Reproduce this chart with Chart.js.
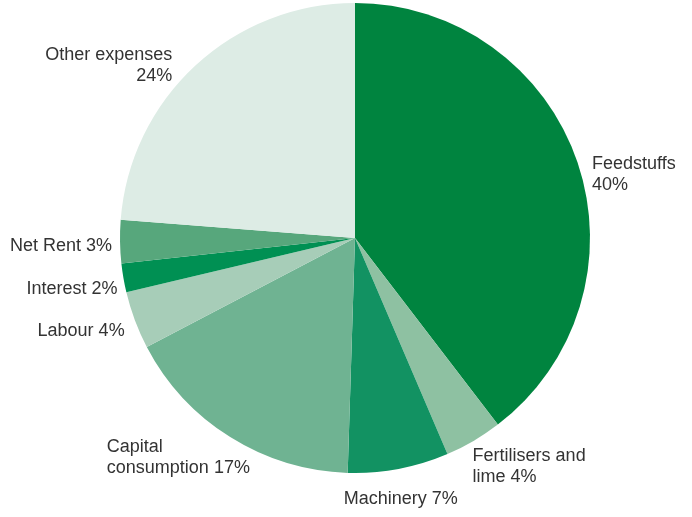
<!DOCTYPE html>
<html>
<head>
<meta charset="utf-8">
<script src="https://cdn.jsdelivr.net/npm/chart.js@4.4.1/dist/chart.umd.min.js"></script>
<style>
  html, body { margin: 0; padding: 0; background: #fff; }
  #wrap { width: 692px; height: 517px; }
</style>
</head>
<body>
<div id="wrap"><canvas id="pie-chart" width="692" height="517"></canvas></div>
<script>
// Cost shares, clockwise from 12 o'clock
var categories = ['Feedstuffs', 'Fertilisers and lime', 'Machinery', 'Capital consumption',
                  'Labour', 'Interest', 'Net Rent', 'Other expenses'];
var shares = [40, 4, 7, 17, 4, 2, 3, 24];

// How each label is broken over lines (value is appended to the last line)
var labelLines = [
  ['Feedstuffs', ''],
  ['Fertilisers and', 'lime'],
  ['Machinery'],
  ['Capital', 'consumption'],
  ['Labour'],
  ['Interest'],
  ['Net Rent'],
  ['Other expenses', '']
];

var sliceColors = ['#00843f', '#8ec1a2', '#129262', '#6fb392',
                   '#a7cdb8', '#009053', '#57a77c', '#ddece5'];

// label placement: text alignment and a nudge from the slice's mid-angle point
var labelAlign = ['left', 'left', 'center', 'left', 'right', 'right', 'right', 'right'];
var labelNudge = [[3, 10], [-7, 10], [0, 23], [-117, 5], [1, 12], [6, 14], [4, 9], [-15, 3]];

var outsideLabels = {
  id: 'outsideLabels',
  afterDatasetsDraw: function (chart) {
    var ctx = chart.ctx;
    var meta = chart.getDatasetMeta(0);
    ctx.save();
    ctx.font = '18px "Liberation Sans", Arial, sans-serif';
    ctx.fillStyle = '#333333';
    ctx.textBaseline = 'alphabetic';
    meta.data.forEach(function (arc, i) {
      var mid = (arc.startAngle + arc.endAngle) / 2;
      var r = arc.outerRadius + 12;
      var x = arc.x + Math.cos(mid) * r + labelNudge[i][0];
      var y = arc.y + Math.sin(mid) * r + labelNudge[i][1];
      var lines = labelLines[i].slice();
      var last = lines.length - 1;
      lines[last] = (lines[last] ? lines[last] + ' ' : '') + shares[i] + '%';
      ctx.textAlign = labelAlign[i];
      lines.forEach(function (line, j) {
        ctx.fillText(line, x, y + j * 21);
      });
    });
    ctx.restore();
  }
};

var ctx = document.getElementById('pie-chart').getContext('2d');
var myPieChart = new Chart(ctx, {
  type: 'pie',
  data: {
    labels: categories,
    datasets: [{
      data: shares,
      backgroundColor: sliceColors,
      borderWidth: 0
    }]
  },
  options: {
    responsive: false,
    animation: false,
    layout: {
      padding: { left: 120, right: 102, top: 3, bottom: 44 }
    },
    plugins: {
      legend: { display: false },
      tooltip: { enabled: false }
    }
  },
  plugins: [outsideLabels]
});
</script>
</body>
</html>
